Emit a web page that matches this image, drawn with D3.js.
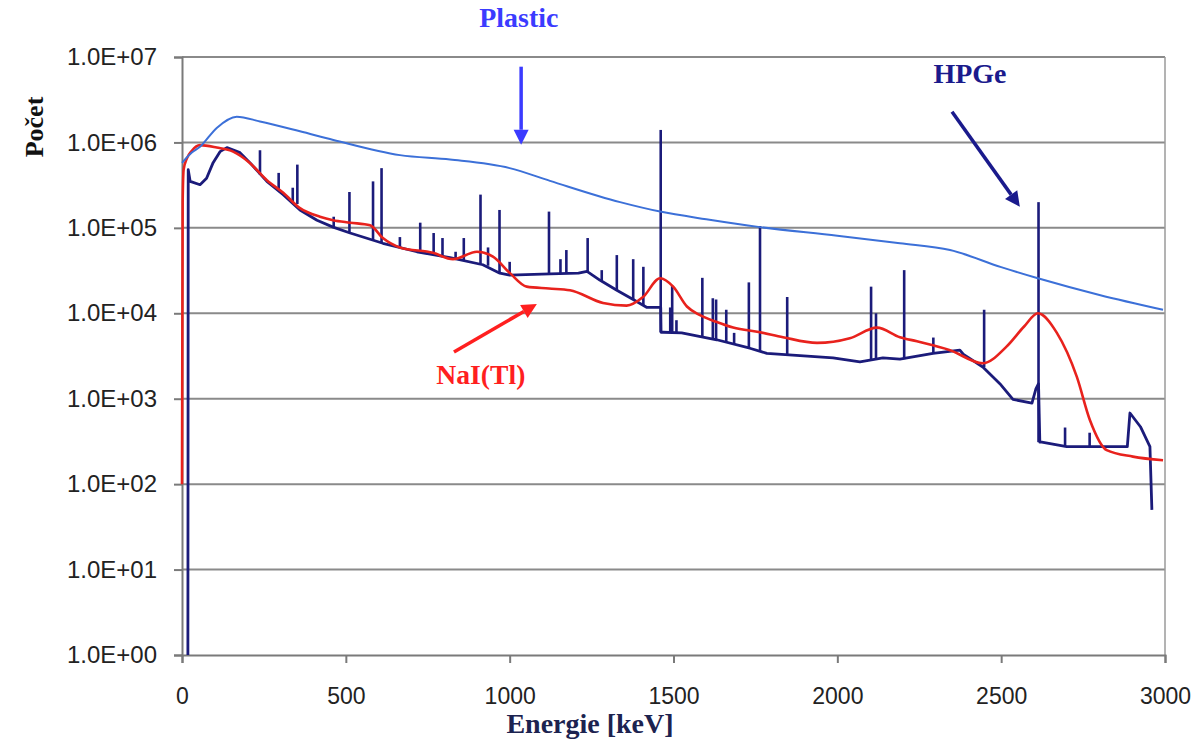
<!DOCTYPE html>
<html>
<head>
<meta charset="utf-8">
<script src="https://cdn.jsdelivr.net/npm/d3@7/dist/d3.min.js"></script>
<style>
  html, body { margin: 0; padding: 0; background: #ffffff; }
  svg { display: block; }
</style>
</head>
<body>
<svg id="chart" width="1204" height="739"></svg>
<script>
// Energy axis ticks (keV) and count-axis decades
const xTicks = [0, 500, 1000, 1500, 2000, 2500, 3000];
const yTicks = [1e0, 1e1, 1e2, 1e3, 1e4, 1e5, 1e6, 1e7];

// Plastic scintillator spectrum [energy keV, counts]
const plastic = [
  [0, 5.75e5], [30, 7.6e5], [55, 8.9e5], [106, 1.48e6], [167, 2.0e6],
  [238, 1.76e6], [360, 1.35e6], [462, 1.07e6], [665, 7.1e5], [818, 6.3e5],
  [1000, 5.0e5], [1123, 3.55e5], [1337, 2.0e5], [1459, 1.55e5], [1600, 1.26e5],
  [1764, 1.02e5], [2000, 8.1e4], [2191, 6.6e4], [2344, 5.5e4], [2500, 3.47e4],
  [2612, 2.57e4], [2800, 1.64e4], [2994, 1.1e4]
];

// NaI(Tl) spectrum [energy keV, counts]
const nai = [
  [0, 100], [2, 2.0e5], [5, 4.8e5], [15, 6.5e5], [30, 8.0e5], [55, 9.3e5],
  [106, 8.7e5], [156, 7.8e5], [207, 5.75e5], [259, 3.6e5], [309, 2.57e5],
  [360, 1.7e5], [421, 1.35e5], [461, 1.23e5], [513, 1.15e5], [574, 1.07e5],
  [613, 7.6e4], [665, 5.9e4], [766, 5.1e4], [827, 4.3e4], [900, 5.25e4],
  [949, 4.6e4], [1001, 2.95e4], [1052, 2.05e4], [1120, 1.95e4], [1184, 1.86e4],
  [1285, 1.32e4], [1357, 1.23e4], [1407, 1.55e4], [1459, 2.57e4], [1499, 2.05e4],
  [1541, 1.2e4], [1581, 9.5e3], [1632, 7.9e3], [1682, 6.8e3], [1764, 6.0e3],
  [1834, 5.25e3], [1938, 4.5e3], [2038, 5.1e3], [2121, 6.8e3], [2191, 5.25e3],
  [2243, 4.7e3], [2344, 3.7e3], [2444, 2.6e3], [2517, 4.1e3], [2570, 7.0e3],
  [2612, 1.0e4], [2670, 5.9e3], [2731, 1.8e3], [2771, 5.6e2], [2822, 2.5e2],
  [2902, 2.1e2], [2994, 1.9e2]
];

// HPGe continuum [energy keV, counts]
const hpgeContinuum = [
  [18, 1], [19, 4.8e5], [25, 3.5e5], [55, 3.2e5], [75, 3.8e5], [95, 5.8e5],
  [116, 7.8e5], [137, 8.7e5], [177, 7.6e5], [207, 5.8e5], [259, 3.5e5],
  [309, 2.45e5], [360, 1.62e5], [412, 1.23e5], [461, 1.02e5], [513, 8.7e4],
  [613, 6.6e4], [717, 5.25e4], [818, 4.47e4], [918, 3.7e4], [970, 2.95e4],
  [1000, 2.8e4], [1123, 2.9e4], [1210, 2.95e4], [1236, 3.1e4], [1275, 2.45e4],
  [1327, 1.86e4], [1377, 1.45e4], [1419, 1.17e4], [1452, 1.17e4], [1461, 1.17e4],
  [1462, 6.0e3], [1468, 6.0e3], [1525, 5.9e3], [1632, 4.9e3], [1733, 3.9e3],
  [1785, 3.4e3], [1886, 3.2e3], [1987, 3.0e3], [2069, 2.7e3], [2139, 3.0e3],
  [2191, 2.9e3], [2292, 3.4e3], [2374, 3.7e3], [2385, 3.3e3], [2444, 2.35e3],
  [2496, 1.5e3], [2536, 9.8e2], [2594, 8.9e2], [2606, 1.3e3], [2614, 1.5e3],
  [2618, 3.1e2], [2624, 3.1e2], [2700, 2.75e2], [2801, 2.75e2], [2885, 2.75e2],
  [2893, 6.8e2], [2925, 4.7e2], [2954, 2.75e2], [2960, 50]
];

// HPGe photopeaks [energy keV, base counts, peak counts]
const hpgePeaks = [
  [238, 4.2e5, 8.1e5], [295, 2.8e5, 4.4e5], [338, 2.0e5, 2.95e5], [352, 1.9e5, 5.5e5],
  [463, 1.02e5, 1.35e5], [511, 8.9e4, 2.63e5], [583, 7.2e4, 3.5e5], [609, 6.7e4, 5.0e5],
  [665, 5.9e4, 7.8e4], [727, 5.2e4, 1.15e5], [768, 4.9e4, 8.7e4], [795, 4.7e4, 7.6e4],
  [835, 4.4e4, 5.25e4], [860, 4.2e4, 7.6e4], [911, 3.8e4, 2.45e5], [934, 3.6e4, 5.9e4],
  [969, 3.0e4, 1.62e5], [1000, 2.8e4, 4.0e4], [1120, 2.9e4, 1.55e5], [1155, 2.9e4, 4.3e4],
  [1173, 2.9e4, 5.5e4], [1238, 3.0e4, 7.6e4], [1281, 2.4e4, 3.2e4], [1327, 1.86e4, 4.8e4],
  [1377, 1.45e4, 4.3e4], [1408, 1.25e4, 3.5e4], [1461, 6.0e3, 1.4e6], [1490, 6.0e3, 1.17e4],
  [1496, 6.0e3, 2.1e4], [1509, 6.0e3, 8.3e3], [1588, 5.3e3, 2.6e4], [1620, 5.0e3, 1.5e4],
  [1630, 4.9e3, 1.45e4], [1661, 4.7e3, 1.1e4], [1685, 4.4e3, 5.9e3], [1730, 3.9e3, 2.3e4],
  [1764, 3.6e3, 1.05e5], [1847, 3.3e3, 1.55e4], [2103, 2.8e3, 2.05e4], [2118, 2.9e3, 1.0e4],
  [2204, 2.9e3, 3.2e4], [2293, 3.4e3, 5.2e3], [2448, 2.35e3, 1.1e4], [2614, 3.1e2, 2.0e5],
  [2695, 2.75e2, 4.6e2], [2770, 2.75e2, 4.0e2]
];

// Series labels with arrows, placed in data coordinates
const annotations = [
  { text: "Plastic", color: "#3b3bff", at: [1028, 10 ** 7.35], from: [1035, 7.7e6], to: [1035, 9.4e5], len: 79 },
  { text: "HPGe", color: "#1a1a8c", at: [2405, 10 ** 6.70], from: [2350, 10 ** 6.358], to: [2557, 10 ** 5.246], len: 73 },
  { text: "NaI(Tl)", color: "#ff1f1f", at: [912, 10 ** 3.173], from: [830, 10 ** 3.548], to: [1083, 10 ** 4.11], len: 89 }
];

const svg = d3.select("#chart");
const x = d3.scaleLinear().domain([0, 3000]).range([182, 1165]);
const y = d3.scaleLog().domain([1, 1e7]).range([655, 57]);

// horizontal gridlines at each decade
svg.append("g").selectAll("line")
  .data(yTicks.slice(1))
  .join("line")
  .attr("x1", x(0)).attr("x2", x(3000))
  .attr("y1", d => y(d)).attr("y2", d => y(d))
  .attr("stroke", "#8a8a8a").attr("stroke-width", 2);

// right frame edge
svg.append("line")
  .attr("x1", x(3000)).attr("x2", x(3000))
  .attr("y1", y(1e7)).attr("y2", y(1))
  .attr("stroke", "#9a9a9a").attr("stroke-width", 1.5);

// axes
const fmtE = d => {
  const e = Math.round(Math.log10(d));
  return "1.0E+" + String(e).padStart(2, "0");
};
const yAxis = svg.append("g")
  .attr("transform", `translate(${x(0)},0)`)
  .call(d3.axisLeft(y).tickValues(yTicks).tickFormat(fmtE).tickSize(8).tickPadding(17));
const xAxis = svg.append("g")
  .attr("transform", `translate(0,${y(1)})`)
  .call(d3.axisBottom(x).tickValues(xTicks).tickFormat(d3.format("d")).tickSize(8).tickPadding(25));

[yAxis, xAxis].forEach(g => {
  g.select(".domain").attr("stroke", "#7a7a7a").attr("stroke-width", 2);
  g.selectAll(".tick line").attr("stroke", "#7a7a7a").attr("stroke-width", 2);
  g.selectAll(".tick text")
    .attr("fill", "#222")
    .attr("font-family", "Liberation Sans, Arial, sans-serif");
});
yAxis.selectAll(".tick text").attr("font-size", 24)
  .attr("textLength", 90).attr("lengthAdjust", "spacingAndGlyphs");
xAxis.selectAll(".tick text").attr("font-size", 23);

// spectra
const line = d3.line().x(d => x(d[0])).y(d => y(d[1]));
const smooth = d3.line().x(d => x(d[0])).y(d => y(d[1])).curve(d3.curveMonotoneX);

const hp = svg.append("g").attr("stroke", "#1b1b7a").attr("fill", "none")
  .attr("stroke-linejoin", "round");
hp.append("path").datum(hpgeContinuum).attr("d", line).attr("stroke-width", 2.8);
hp.selectAll("path.peak")
  .data(hpgePeaks)
  .join("path")
  .attr("class", "peak")
  .attr("stroke-width", 2.6)
  .attr("d", d => line([[d[0], d[1]], [d[0], d[2]]]));

svg.append("path").datum(nai)
  .attr("d", smooth).attr("fill", "none")
  .attr("stroke", "#e8221d").attr("stroke-width", 2.6);

svg.append("path").datum(plastic)
  .attr("d", smooth).attr("fill", "none")
  .attr("stroke", "#3c70d8").attr("stroke-width", 2);

// annotation labels and arrows
const ann = svg.append("g");
annotations.forEach(a => {
  const x1 = x(a.from[0]), y1 = y(a.from[1]);
  const x2 = x(a.to[0]), y2 = y(a.to[1]);
  const ang = Math.atan2(y2 - y1, x2 - x1);
  const head = 15, half = 7.5;
  const bx = x2 - head * Math.cos(ang), by = y2 - head * Math.sin(ang);
  ann.append("line")
    .attr("x1", x1).attr("y1", y1).attr("x2", bx).attr("y2", by)
    .attr("stroke", a.color).attr("stroke-width", 3.5);
  ann.append("path")
    .attr("d", d3.line()([
      [x2, y2],
      [bx + half * Math.sin(ang), by - half * Math.cos(ang)],
      [bx - half * Math.sin(ang), by + half * Math.cos(ang)]
    ]) + "Z")
    .attr("fill", a.color);
  ann.append("text")
    .attr("x", x(a.at[0])).attr("y", y(a.at[1]))
    .attr("text-anchor", "middle")
    .attr("font-family", "Liberation Serif, Times New Roman, serif")
    .attr("font-weight", "bold").attr("font-size", 27)
    .attr("textLength", a.len).attr("lengthAdjust", "spacingAndGlyphs")
    .attr("fill", a.color)
    .text(a.text);
});

// axis titles
svg.append("text")
  .attr("transform", `translate(43,127) rotate(-90)`)
  .attr("text-anchor", "middle")
  .attr("font-family", "Liberation Serif, Times New Roman, serif")
  .attr("font-weight", "bold").attr("font-size", 26)
  .attr("fill", "#111")
  .text("Počet");

svg.append("text")
  .attr("x", 590).attr("y", 733)
  .attr("text-anchor", "middle")
  .attr("font-family", "Liberation Serif, Times New Roman, serif")
  .attr("font-weight", "bold").attr("font-size", 28)
  .attr("fill", "#1c2350")
  .text("Energie [keV]");
</script>
</body>
</html>
